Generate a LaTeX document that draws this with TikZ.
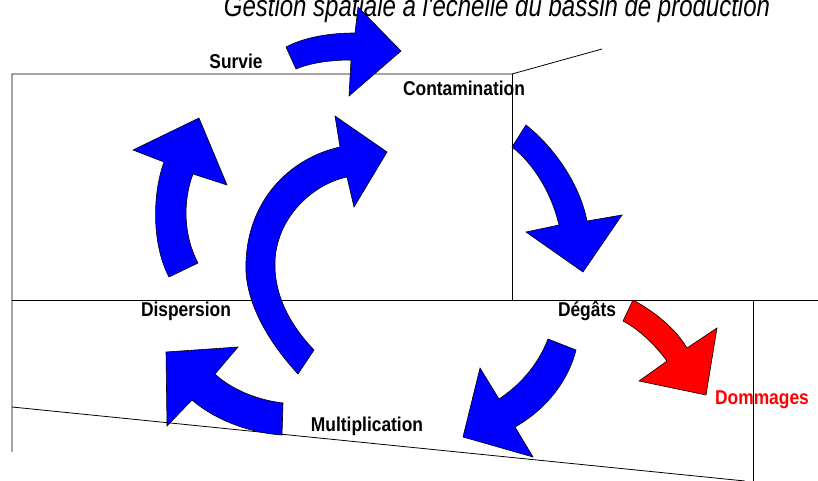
\documentclass[tikz,border=0pt]{standalone}
\usepackage{fontspec}
\setmainfont{Liberation Sans}
\newfontfamily\labfont{Liberation Sans}[FakeStretch=0.87]
\newfontfamily\titlefont{Liberation Sans}[FakeStretch=0.8]
\begin{document}
\begin{tikzpicture}[x=1pt,y=-1pt,
  frame/.style={draw=black,line width=0.8pt},
  bluearrow/.style={fill=blue,draw=black,line width=0.6pt,line join=miter},
  redarrow/.style={fill=red,draw=black,line width=0.6pt,line join=miter},
  lab/.style={inner sep=0pt,anchor=base,font=\labfont\bfseries\fontsize{20}{24}\selectfont},
  titlestyle/.style={inner sep=0pt,anchor=base,font=\titlefont\itshape\fontsize{30}{34}\selectfont}]
\useasboundingbox (0,0) rectangle (818,481);
% title
\node[titlestyle] (title) at (497,17) {Gestion spatiale à l'échelle du bassin de production};
% frame lines
\draw[frame] (12,452) -- (12,74) -- (512,74) -- (602,49);
\draw[frame] (512,74) -- (512,300);
\draw[frame] (12,300) -- (818,300);
\draw[frame] (753,300) -- (753,481);
\draw[frame] (12,407) -- (745,481);
% labels
\node[lab] (survie) at (236,69) {Survie};
\node[lab] (contam) at (464,96) {Contamination};
\node[lab] (dispersion) at (186,316) {Dispersion};
\node[lab] (degats) at (587,316) {Dégâts};
\node[lab] (multi) at (367,431) {Multiplication};
\node[lab,text=red] (dommages) at (762,404) {Dommages};
% arrows
% A: survie -> contamination
\path[bluearrow] (286,47) .. controls (305,37) and (330,33) .. (355,33) -- (358,7) -- (401,51) -- (349,96) -- (351,60)
  .. controls (330,60) and (310,63) .. (296,69) -- cycle;
% B: dispersion -> survie
\path[bluearrow] (169,277) .. controls (152,245) and (152,195) .. (164,162) -- (133,150) -- (199,118) -- (227,185) -- (193,174)
  .. controls (183,200) and (183,235) .. (198,263) -- cycle;
% C: big central arc
\path[bluearrow] (298,374) .. controls (262,335) and (244,295) .. (246,262) .. controls (248,200) and (290,158) .. (340,147)
  -- (335,116) -- (387,152) -- (354,207) -- (347,177)
  .. controls (310,185) and (276,220) .. (275,262) .. controls (274,295) and (290,325) .. (314,350) -- cycle;
% D: contamination -> degats
\path[bluearrow] (526,125) .. controls (555,148) and (580,185) .. (587,221) -- (622,215) -- (583,272) -- (526,232) -- (559,225)
  .. controls (552,195) and (535,165) .. (512,147) -- cycle;
% E: multiplication -> dispersion
\path[bluearrow] (283,403) .. controls (258,400) and (232,390) .. (215,374) -- (238,347) -- (166,352) -- (167,426) -- (192,400)
  .. controls (215,420) and (250,433) .. (282,435) -- cycle;
% F: degats -> multiplication
\path[bluearrow] (548,339) .. controls (538,365) and (520,385) .. (499,399) -- (480,368) -- (463,437) -- (533,457) -- (515,427)
  .. controls (545,410) and (568,382) .. (576,350) -- cycle;
% G: degats -> dommages (red)
\path[redarrow] (633,300) .. controls (655,312) and (675,328) .. (687,348) -- (717,328) -- (706,395) -- (639,381) -- (667,361)
  .. controls (655,345) and (640,330) .. (623,321) -- cycle;
\end{tikzpicture}
\end{document}
